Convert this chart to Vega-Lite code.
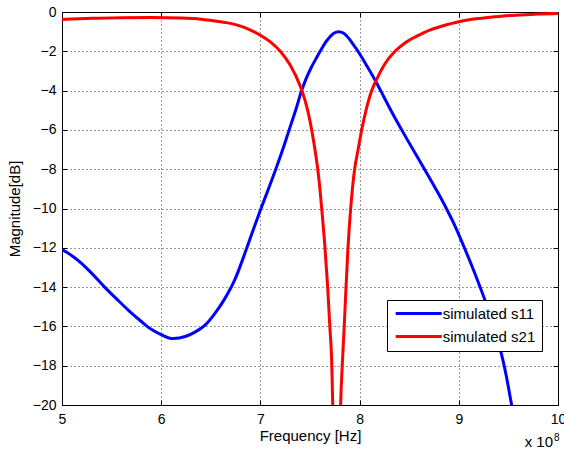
{
  "$schema": "https://vega.github.io/schema/vega-lite/v6.json",
  "autosize": {"type": "none"},
  "padding": {"left": 62, "top": 12, "right": 6, "bottom": 44},
  "width": 496,
  "height": 393,
  "background": "white",
  "config": {
    "font": "Liberation Sans",
    "view": {"stroke": "black", "strokeWidth": 1},
    "axis": {
      "labelFont": "Liberation Sans",
      "titleFont": "Liberation Sans",
      "labelColor": "black",
      "titleColor": "black",
      "labelFontSize": 14,
      "titleFontSize": 15,
      "titleFontWeight": "normal",
      "domainColor": "black",
      "tickColor": "black",
      "gridColor": "#333333",
      "gridOpacity": 1
    }
  },
  "datasets": {
    "curves": [
      {"freq": 500000000, "db": -12.09, "series": "simulated s11"},
      {"freq": 510000000, "db": -12.4, "series": "simulated s11"},
      {"freq": 520000000, "db": -12.8, "series": "simulated s11"},
      {"freq": 530000000, "db": -13.3, "series": "simulated s11"},
      {"freq": 543000000, "db": -14.0, "series": "simulated s11"},
      {"freq": 555000000, "db": -14.6, "series": "simulated s11"},
      {"freq": 567000000, "db": -15.18, "series": "simulated s11"},
      {"freq": 580000000, "db": -15.75, "series": "simulated s11"},
      {"freq": 590000000, "db": -16.15, "series": "simulated s11"},
      {"freq": 600000000, "db": -16.42, "series": "simulated s11"},
      {"freq": 612000000, "db": -16.62, "series": "simulated s11"},
      {"freq": 625000000, "db": -16.5, "series": "simulated s11"},
      {"freq": 634000000, "db": -16.29, "series": "simulated s11"},
      {"freq": 645000000, "db": -15.9, "series": "simulated s11"},
      {"freq": 654000000, "db": -15.35, "series": "simulated s11"},
      {"freq": 664000000, "db": -14.6, "series": "simulated s11"},
      {"freq": 674000000, "db": -13.65, "series": "simulated s11"},
      {"freq": 686000000, "db": -12.05, "series": "simulated s11"},
      {"freq": 693000000, "db": -11.05, "series": "simulated s11"},
      {"freq": 700600000, "db": -10.0, "series": "simulated s11"},
      {"freq": 708000000, "db": -9.02, "series": "simulated s11"},
      {"freq": 715500000, "db": -8.0, "series": "simulated s11"},
      {"freq": 722500000, "db": -7.0, "series": "simulated s11"},
      {"freq": 729000000, "db": -6.0, "series": "simulated s11"},
      {"freq": 735500000, "db": -5.0, "series": "simulated s11"},
      {"freq": 741600000, "db": -4.0, "series": "simulated s11"},
      {"freq": 746000000, "db": -3.4, "series": "simulated s11"},
      {"freq": 751000000, "db": -2.85, "series": "simulated s11"},
      {"freq": 757000000, "db": -2.29, "series": "simulated s11"},
      {"freq": 762000000, "db": -1.85, "series": "simulated s11"},
      {"freq": 766000000, "db": -1.52, "series": "simulated s11"},
      {"freq": 770000000, "db": -1.27, "series": "simulated s11"},
      {"freq": 774000000, "db": -1.08, "series": "simulated s11"},
      {"freq": 779000000, "db": -1.0, "series": "simulated s11"},
      {"freq": 784000000, "db": -1.08, "series": "simulated s11"},
      {"freq": 789000000, "db": -1.33, "series": "simulated s11"},
      {"freq": 793500000, "db": -1.65, "series": "simulated s11"},
      {"freq": 799000000, "db": -2.05, "series": "simulated s11"},
      {"freq": 808000000, "db": -2.8, "series": "simulated s11"},
      {"freq": 817000000, "db": -3.6, "series": "simulated s11"},
      {"freq": 822000000, "db": -4.08, "series": "simulated s11"},
      {"freq": 832000000, "db": -5.05, "series": "simulated s11"},
      {"freq": 843000000, "db": -6.05, "series": "simulated s11"},
      {"freq": 855000000, "db": -7.1, "series": "simulated s11"},
      {"freq": 866000000, "db": -8.05, "series": "simulated s11"},
      {"freq": 877000000, "db": -9.02, "series": "simulated s11"},
      {"freq": 887500000, "db": -10.0, "series": "simulated s11"},
      {"freq": 897000000, "db": -10.98, "series": "simulated s11"},
      {"freq": 905000000, "db": -11.92, "series": "simulated s11"},
      {"freq": 913000000, "db": -12.9, "series": "simulated s11"},
      {"freq": 920000000, "db": -13.8, "series": "simulated s11"},
      {"freq": 927000000, "db": -14.75, "series": "simulated s11"},
      {"freq": 935000000, "db": -15.95, "series": "simulated s11"},
      {"freq": 942000000, "db": -17.2, "series": "simulated s11"},
      {"freq": 948000000, "db": -18.55, "series": "simulated s11"},
      {"freq": 953000000, "db": -19.93, "series": "simulated s11"},
      {"freq": 960000000, "db": -21.8, "series": "simulated s11"},
      {"freq": 970000000, "db": -24.5, "series": "simulated s11"},
      {"freq": 500000000, "db": -0.38, "series": "simulated s21"},
      {"freq": 530000000, "db": -0.32, "series": "simulated s21"},
      {"freq": 560000000, "db": -0.29, "series": "simulated s21"},
      {"freq": 590000000, "db": -0.28, "series": "simulated s21"},
      {"freq": 620000000, "db": -0.31, "series": "simulated s21"},
      {"freq": 640000000, "db": -0.37, "series": "simulated s21"},
      {"freq": 660000000, "db": -0.5, "series": "simulated s21"},
      {"freq": 670000000, "db": -0.58, "series": "simulated s21"},
      {"freq": 680000000, "db": -0.72, "series": "simulated s21"},
      {"freq": 690000000, "db": -0.92, "series": "simulated s21"},
      {"freq": 700000000, "db": -1.18, "series": "simulated s21"},
      {"freq": 710000000, "db": -1.52, "series": "simulated s21"},
      {"freq": 720000000, "db": -2.0, "series": "simulated s21"},
      {"freq": 730000000, "db": -2.7, "series": "simulated s21"},
      {"freq": 740000000, "db": -3.75, "series": "simulated s21"},
      {"freq": 745000000, "db": -4.5, "series": "simulated s21"},
      {"freq": 748500000, "db": -5.2, "series": "simulated s21"},
      {"freq": 751700000, "db": -6.0, "series": "simulated s21"},
      {"freq": 755000000, "db": -7.0, "series": "simulated s21"},
      {"freq": 757800000, "db": -8.0, "series": "simulated s21"},
      {"freq": 760000000, "db": -9.0, "series": "simulated s21"},
      {"freq": 761800000, "db": -10.0, "series": "simulated s21"},
      {"freq": 765100000, "db": -12.0, "series": "simulated s21"},
      {"freq": 767800000, "db": -14.0, "series": "simulated s21"},
      {"freq": 770000000, "db": -16.0, "series": "simulated s21"},
      {"freq": 772000000, "db": -18.0, "series": "simulated s21"},
      {"freq": 772900000, "db": -20.0, "series": "simulated s21"},
      {"freq": 775000000, "db": -26.0, "series": "simulated s21"},
      {"freq": 777000000, "db": -40.0, "series": "simulated s21"},
      {"freq": 779000000, "db": -26.0, "series": "simulated s21"},
      {"freq": 780900000, "db": -20.0, "series": "simulated s21"},
      {"freq": 782500000, "db": -18.0, "series": "simulated s21"},
      {"freq": 784500000, "db": -16.0, "series": "simulated s21"},
      {"freq": 786300000, "db": -14.0, "series": "simulated s21"},
      {"freq": 788300000, "db": -12.0, "series": "simulated s21"},
      {"freq": 791000000, "db": -10.0, "series": "simulated s21"},
      {"freq": 795000000, "db": -8.0, "series": "simulated s21"},
      {"freq": 798500000, "db": -7.0, "series": "simulated s21"},
      {"freq": 802100000, "db": -6.0, "series": "simulated s21"},
      {"freq": 806500000, "db": -5.0, "series": "simulated s21"},
      {"freq": 812200000, "db": -4.0, "series": "simulated s21"},
      {"freq": 816500000, "db": -3.5, "series": "simulated s21"},
      {"freq": 825600000, "db": -2.63, "series": "simulated s21"},
      {"freq": 835700000, "db": -2.0, "series": "simulated s21"},
      {"freq": 845000000, "db": -1.6, "series": "simulated s21"},
      {"freq": 859200000, "db": -1.19, "series": "simulated s21"},
      {"freq": 870000000, "db": -0.93, "series": "simulated s21"},
      {"freq": 881000000, "db": -0.75, "series": "simulated s21"},
      {"freq": 901000000, "db": -0.48, "series": "simulated s21"},
      {"freq": 915000000, "db": -0.36, "series": "simulated s21"},
      {"freq": 931000000, "db": -0.27, "series": "simulated s21"},
      {"freq": 945000000, "db": -0.2, "series": "simulated s21"},
      {"freq": 961000000, "db": -0.15, "series": "simulated s21"},
      {"freq": 980000000, "db": -0.1, "series": "simulated s21"},
      {"freq": 1000000000, "db": -0.07, "series": "simulated s21"}
    ],
    "exponent": [
      {"freq": 1000000000, "db": -20, "part": "base", "label": "x 10"},
      {"freq": 1000000000, "db": -20, "part": "power", "label": "8"}
    ]
  },
  "layer": [
    {
      "data": {"name": "curves"},
      "mark": {"type": "line", "clip": true, "strokeWidth": 3, "interpolate": "monotone"},
      "encoding": {
        "x": {
          "field": "freq",
          "type": "quantitative",
          "scale": {"domain": [500000000, 1000000000], "nice": false, "zero": false},
          "axis": {
            "orient": "bottom",
            "title": "Frequency [Hz]",
            "values": [500000000, 600000000, 700000000, 800000000, 900000000, 1000000000],
            "labelExpr": "format(datum.value / 1e8, 'd')",
            "tickSize": -5,
            "labelPadding": 12,
            "labelFlush": false,
            "labelOverlap": false,
            "titlePadding": 2,
            "grid": true,
            "gridDash": [1, 3]
          }
        },
        "y": {
          "field": "db",
          "type": "quantitative",
          "scale": {"domain": [-20, 0], "nice": false, "zero": false},
          "axis": {
            "orient": "left",
            "title": "Magnitude[dB]",
            "values": [-20, -18, -16, -14, -12, -10, -8, -6, -4, -2, 0],
            "tickSize": -5,
            "labelPadding": 11,
            "labelFlush": false,
            "labelOverlap": false,
            "titlePadding": 10,
            "grid": true,
            "gridDash": [1, 3]
          }
        },
        "color": {
          "field": "series",
          "type": "nominal",
          "scale": {"domain": ["simulated s11", "simulated s21"], "range": ["#0000ff", "#ff0000"]},
          "legend": {
            "title": null,
            "orient": "none",
            "legendX": 325,
            "legendY": 288,
            "fillColor": "white",
            "strokeColor": "black",
            "padding": 6,
            "rowPadding": 7,
            "labelFont": "Liberation Sans",
            "labelFontSize": 15,
            "labelColor": "black",
            "symbolType": "M-5,0H5",
            "symbolSize": 85,
            "symbolStrokeWidth": 3,
            "symbolOffset": 18.2,
            "labelOffset": 16.5
          }
        }
      }
    },
    {
      "data": {"name": "curves"},
      "mark": {"type": "line", "strokeOpacity": 0},
      "encoding": {
        "x": {
          "field": "freq",
          "type": "quantitative",
          "axis": {
            "orient": "top",
            "title": null,
            "values": [500000000, 600000000, 700000000, 800000000, 900000000, 1000000000],
            "labels": false,
            "tickSize": -5,
            "grid": false
          }
        },
        "y": {
          "field": "db",
          "type": "quantitative",
          "axis": {
            "orient": "right",
            "title": null,
            "values": [-20, -18, -16, -14, -12, -10, -8, -6, -4, -2, 0],
            "labels": false,
            "tickSize": -5,
            "grid": false
          }
        }
      }
    },
    {
      "data": {"name": "exponent"},
      "transform": [{"filter": "datum.part == 'base'"}],
      "mark": {"type": "text", "align": "right", "baseline": "alphabetic", "dx": -5, "dy": 42, "fontSize": 15, "font": "Liberation Sans", "color": "black"},
      "encoding": {
        "x": {"field": "freq", "type": "quantitative", "axis": null},
        "y": {"field": "db", "type": "quantitative", "axis": null},
        "text": {"field": "label"}
      }
    },
    {
      "data": {"name": "exponent"},
      "transform": [{"filter": "datum.part == 'power'"}],
      "mark": {"type": "text", "align": "left", "baseline": "alphabetic", "dx": -4, "dy": 36, "fontSize": 10, "font": "Liberation Sans", "color": "black"},
      "encoding": {
        "x": {"field": "freq", "type": "quantitative", "axis": null},
        "y": {"field": "db", "type": "quantitative", "axis": null},
        "text": {"field": "label"}
      }
    }
  ],
  "resolve": {"axis": {"x": "independent", "y": "independent"}}
}
